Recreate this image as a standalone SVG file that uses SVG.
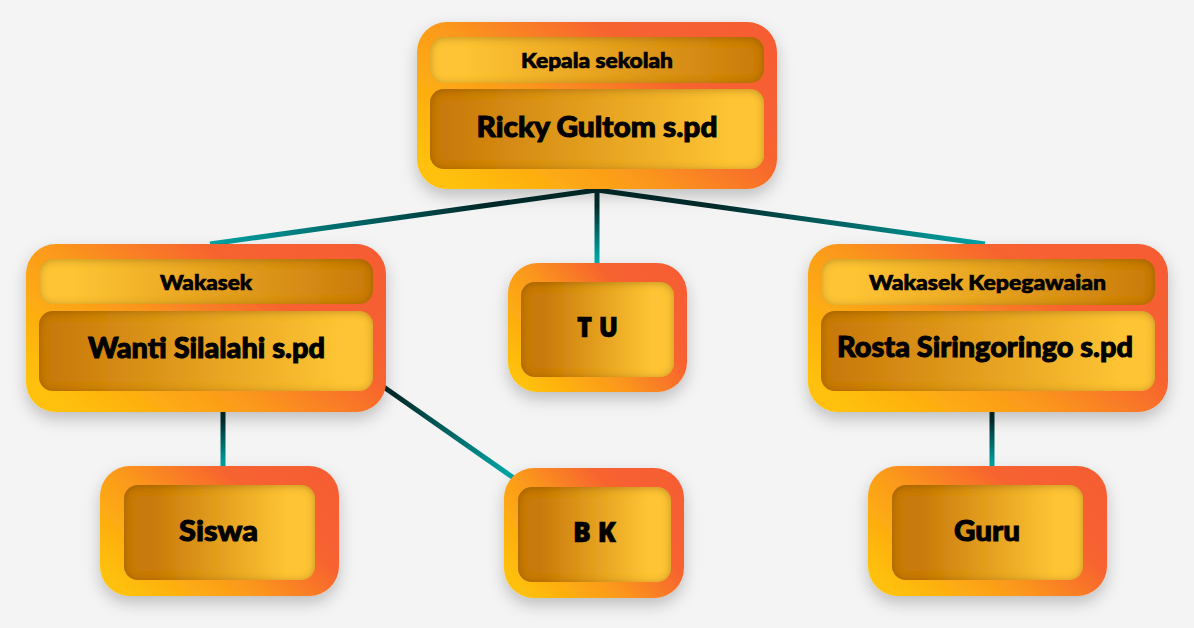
<svg xmlns="http://www.w3.org/2000/svg" width="1194" height="628" viewBox="0 0 1194 628">
<defs>
<style>
.outer{fill:url(#gOuter);filter:url(#drop);}
.hdr{fill:url(#gHdr);filter:url(#inset);}
.name{fill:url(#gName);filter:url(#inset);}
.sm{fill:url(#gSmall);filter:url(#inset);}
.conn{fill:none;stroke-width:5;stroke-linecap:butt;}
.t1{font-family:"Lato","Liberation Sans",sans-serif;font-weight:900;font-size:21px;fill:#000;stroke:#000;stroke-width:0.7;text-anchor:middle;}
.t2{font-family:"Lato","Liberation Sans",sans-serif;font-weight:900;font-size:29px;fill:#000;stroke:#000;stroke-width:1;text-anchor:middle;}
.t3{font-family:"Open Sans","Liberation Sans",sans-serif;font-weight:800;font-size:28px;fill:#000;stroke:#000;stroke-width:0.6;text-anchor:middle;}
</style>
<linearGradient id="gOuter" x1="0" y1="0.8" x2="1" y2="0.2">
<stop offset="0" stop-color="#ffc107"/>
<stop offset="0.4" stop-color="#fb981c"/>
<stop offset="0.72" stop-color="#f7632f"/>
<stop offset="1" stop-color="#f65d33"/>
</linearGradient>
<linearGradient id="gHdr" x1="0" y1="0" x2="1" y2="0">
<stop offset="0.1" stop-color="#fec434"/>
<stop offset="1" stop-color="#c97a0a"/>
</linearGradient>
<linearGradient id="gName" x1="0" y1="0" x2="1" y2="0">
<stop offset="0.05" stop-color="#c97a0a"/>
<stop offset="0.9" stop-color="#fec434"/>
</linearGradient>
<linearGradient id="gSmall" x1="0" y1="0" x2="1" y2="0">
<stop offset="0.15" stop-color="#c97a0a"/>
<stop offset="0.85" stop-color="#fec434"/>
</linearGradient>
<linearGradient id="c1" gradientUnits="userSpaceOnUse" x1="597" y1="190" x2="210" y2="244"><stop offset="0.3" stop-color="#002b2b"/><stop offset="1" stop-color="#00a6a6"/></linearGradient>
<linearGradient id="c2" gradientUnits="userSpaceOnUse" x1="597" y1="190" x2="597" y2="263"><stop offset="0.2" stop-color="#002b2b"/><stop offset="1" stop-color="#00b0b0"/></linearGradient>
<linearGradient id="c3" gradientUnits="userSpaceOnUse" x1="597" y1="190" x2="985" y2="244"><stop offset="0.3" stop-color="#002b2b"/><stop offset="1" stop-color="#00a6a6"/></linearGradient>
<linearGradient id="c4" gradientUnits="userSpaceOnUse" x1="223" y1="412" x2="223" y2="466"><stop offset="0.15" stop-color="#002b2b"/><stop offset="1" stop-color="#00a6a6"/></linearGradient>
<linearGradient id="c5" gradientUnits="userSpaceOnUse" x1="383" y1="387" x2="516" y2="479"><stop offset="0.1" stop-color="#002b2b"/><stop offset="0.95" stop-color="#00a6a6"/></linearGradient>
<linearGradient id="c6" gradientUnits="userSpaceOnUse" x1="992" y1="412" x2="992" y2="466"><stop offset="0.15" stop-color="#002b2b"/><stop offset="1" stop-color="#00a6a6"/></linearGradient>
<filter id="drop" x="-20%" y="-20%" width="140%" height="150%">
<feDropShadow dx="0" dy="7" stdDeviation="8" flood-color="#000" flood-opacity="0.22"/>
</filter>
<filter id="inset" x="-10%" y="-20%" width="120%" height="140%">
<feFlood flood-color="#5a3000" flood-opacity="0.55" result="f"/>
<feComposite in="f" in2="SourceAlpha" operator="out" result="o"/>
<feGaussianBlur in="o" stdDeviation="4" result="b"/>
<feOffset in="b" dx="0" dy="1" result="bo"/>
<feComposite in="bo" in2="SourceAlpha" operator="in" result="s"/>
<feMerge><feMergeNode in="SourceGraphic"/><feMergeNode in="s"/></feMerge>
</filter>
</defs>
<rect width="1194" height="628" fill="#f4f4f4"/>
<g id="connectors">
<path class="conn" stroke="url(#c1)" d="M597,190 L210,244"/>
<path class="conn" stroke="url(#c2)" d="M597,190 L597,265"/>
<path class="conn" stroke="url(#c3)" d="M597,190 L985,244"/>
<path class="conn" stroke="url(#c4)" d="M223,410 L223,468"/>
<path class="conn" stroke="url(#c5)" d="M378,383 L518,481"/>
<path class="conn" stroke="url(#c6)" d="M992,410 L992,468"/>
</g>
<g id="node-kepala">
<rect class="outer" x="417" y="22" width="360" height="167" rx="30"/>
<rect class="hdr" x="430" y="37" width="334" height="46" rx="14"/>
<rect class="name" x="430" y="89" width="334" height="80" rx="14"/>
<text class="t1" x="597" y="68" textLength="152" lengthAdjust="spacingAndGlyphs">Kepala sekolah</text>
<text class="t2" x="597" y="137" textLength="241" lengthAdjust="spacingAndGlyphs">Ricky Gultom s.pd</text>
</g>
<g id="node-wakasek">
<rect class="outer" x="26" y="244" width="360" height="168" rx="30"/>
<rect class="hdr" x="39" y="259" width="334" height="45" rx="14"/>
<rect class="name" x="39" y="311" width="334" height="80" rx="14"/>
<text class="t1" x="206" y="290" textLength="92" lengthAdjust="spacingAndGlyphs">Wakasek</text>
<text class="t2" x="206.5" y="358" textLength="237" lengthAdjust="spacingAndGlyphs">Wanti Silalahi s.pd</text>
</g>
<g id="node-tu">
<rect class="outer" x="508" y="263" width="179" height="129" rx="30"/>
<rect class="sm" x="521" y="282" width="153" height="95" rx="14"/>
<text class="t3" x="597.5" y="337" textLength="41" lengthAdjust="spacingAndGlyphs">T U</text>
</g>
<g id="node-kepegawaian">
<rect class="outer" x="808" y="244" width="360" height="168" rx="30"/>
<rect class="hdr" x="821" y="259" width="334" height="46" rx="14"/>
<rect class="name" x="821" y="311" width="334" height="80" rx="14"/>
<text class="t1" x="987.5" y="290" textLength="237" lengthAdjust="spacingAndGlyphs">Wakasek Kepegawaian</text>
<text class="t2" x="985" y="357" textLength="296" lengthAdjust="spacingAndGlyphs">Rosta Siringoringo s.pd</text>
</g>
<g id="node-siswa">
<rect class="outer" x="100" y="466" width="239" height="130" rx="30"/>
<rect class="sm" x="124" y="485" width="191" height="95" rx="14"/>
<text class="t2" x="218.5" y="541" textLength="79" lengthAdjust="spacingAndGlyphs">Siswa</text>
</g>
<g id="node-bk">
<rect class="outer" x="504" y="468" width="180" height="130" rx="30"/>
<rect class="sm" x="518" y="487" width="153" height="95" rx="14"/>
<text class="t3" x="594.5" y="542" textLength="43" lengthAdjust="spacingAndGlyphs">B K</text>
</g>
<g id="node-guru">
<rect class="outer" x="868" y="466" width="239" height="130" rx="30"/>
<rect class="sm" x="892" y="485" width="191" height="95" rx="14"/>
<text class="t2" x="987" y="541" textLength="66" lengthAdjust="spacingAndGlyphs">Guru</text>
</g>
</svg>
